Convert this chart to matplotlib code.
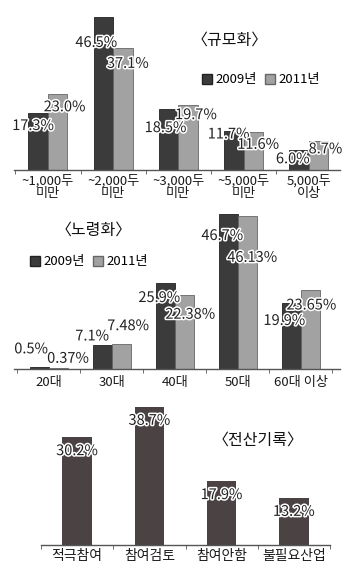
import numpy as np
import matplotlib.pyplot as plt
import matplotlib.patheffects as pe
from matplotlib.patches import Patch

plt.rcParams['font.family'] = ['Noto Sans CJK KR', 'DejaVu Sans']

# data
size_cats = ['~1,000두\n미만', '~2,000두\n미만', '~3,000두\n미만', '~5,000두\n미만', '5,000두\n이상']
size_2009 = [17.3, 46.5, 18.5, 11.7, 6.0]
size_2011 = [23.0, 37.1, 19.7, 11.6, 8.7]
size_lab09 = ['17.3%', '46.5%', '18.5%', '11.7%', '6.0%']
size_lab11 = ['23.0%', '37.1%', '19.7%', '11.6%', '8.7%']

age_cats = ['20대', '30대', '40대', '50대', '60대 이상']
age_2009 = [0.5, 7.1, 25.9, 46.7, 19.9]
age_2011 = [0.37, 7.48, 22.38, 46.13, 23.65]
age_lab09 = ['0.5%', '7.1%', '25.9%', '46.7%', '19.9%']
age_lab11 = ['0.37%', '7.48%', '22.38%', '46.13%', '23.65%']

rec_cats = ['적극참여', '참여검토', '참여안함', '불필요산업']
rec_vals = [30.2, 38.7, 17.9, 13.2]
rec_labs = ['30.2%', '38.7%', '17.9%', '13.2%']

years = ['2009년', '2011년']

# label offsets in pixels (dx, dy) from bar top centre
size_off09 = [(-5, -13), (-7, -26), (-3, -19), (-5, -3), (-6, -9)]
size_off11 = [(7, -13), (5, -16), (8, -10), (5, -13), (7, -8)]
age_off09 = [(-8, 18), (-10, 9), (-6, -15), (-6, -22), (-7, -18)]
age_off11 = [(10, 9), (7, 18), (6, -20), (5, -42), (1, -15)]

W, H = 360, 575
DARK = '#3b3b3b'
LIGHT = '#a2a2a2'
BROWN = '#4a4243'

fig = plt.figure(figsize=(W / 100, H / 100), dpi=100)


def box(x0, x1, ytop, ybot):
    return [x0 / W, 1 - ybot / H, (x1 - x0) / W, (ybot - ytop) / H]


stroke = [pe.withStroke(linewidth=2.2, foreground='white')]


def style_axis(ax, n, fs):
    for s in ['top', 'right', 'left']:
        ax.spines[s].set_visible(False)
    ax.spines['bottom'].set_color('#555555')
    ax.spines['bottom'].set_linewidth(1.0)
    ax.set_yticks([])
    ax.set_xticks(range(n))
    ax.set_xticks(np.arange(-0.5, n, 1.0), minor=True)
    ax.tick_params(axis='x', which='major', length=0, pad=3, labelsize=fs, labelcolor='#1a1a1a')
    ax.tick_params(axis='x', which='minor', length=3, color='#555555')


def grouped(ax, cats, v09, v11, l09, l11, o09, o11, w):
    x = np.arange(len(cats))
    b1 = ax.bar(x - w / 2, v09, w, color=DARK, edgecolor='#222222', linewidth=0.6)
    b2 = ax.bar(x + w / 2, v11, w, color=LIGHT, edgecolor='#666666', linewidth=0.6)
    for bars, labs, offs in [(b1, l09, o09), (b2, l11, o11)]:
        for b, t, (dx, dy) in zip(bars, labs, offs):
            ax.annotate(t, (b.get_x() + b.get_width() / 2, b.get_height()),
                        xytext=(dx, dy), textcoords='offset pixels',
                        ha='center', va='center', fontsize=10.5, color='#222222',
                        path_effects=stroke)
    ax.set_xticklabels(cats, linespacing=0.9)
    style_axis(ax, len(cats), 9.5)


# panel 1
ax1 = fig.add_axes(box(14, 340, 10, 170))
grouped(ax1, size_cats, size_2009, size_2011, size_lab09, size_lab11, size_off09, size_off11, 0.30)
ax1.set_xlim(-0.52, 4.48)
ax1.set_ylim(0, 48.6)
fig.text(230 / W, 1 - 40 / H, '〈규모화〉', ha='center', va='center', fontsize=11.5,
         color='#111111', fontweight='medium')

# panel 2
ax2 = fig.add_axes(box(14, 340, 205, 369))
grouped(ax2, age_cats, age_2009, age_2011, age_lab09, age_lab11, age_off09, age_off11, 0.30)
ax2.set_xlim(-0.55, 4.62)
ax2.set_ylim(0, 49.4)
ax2.tick_params(axis='x', which='major', pad=5)
fig.text(94 / W, 1 - 230 / H, '〈노령화〉', ha='center', va='center', fontsize=11.5,
         color='#111111', fontweight='medium')

handles = [Patch(facecolor=DARK, edgecolor='#222222'), Patch(facecolor=LIGHT, edgecolor='#666666')]
for cx, cy in [(261, 80), (89, 262)]:
    fig.legend(handles, years, loc='center', bbox_to_anchor=(cx / W, 1 - cy / H), ncol=2,
               frameon=False, fontsize=9.5, handlelength=0.75, handleheight=0.75,
               handletextpad=0.25, columnspacing=0.6, borderpad=0)

# panel 3
ax3 = fig.add_axes(box(41, 330, 400, 545))
b3 = ax3.bar(np.arange(len(rec_cats)), rec_vals, 0.41, color=BROWN)
for b, t in zip(b3, rec_labs):
    ax3.annotate(t, (b.get_x() + b.get_width() / 2, b.get_height()),
                 xytext=(0, -14), textcoords='offset pixels',
                 ha='center', va='center', fontsize=10.5, color='#222222',
                 path_effects=stroke)
ax3.set_xticklabels(rec_cats)
style_axis(ax3, len(rec_cats), 10)
ax3.set_xlim(-0.5, 3.5)
ax3.set_ylim(0, 40.6)
fig.text(258 / W, 1 - 440 / H, '〈전산기록〉', ha='center', va='center', fontsize=11.5,
         color='#111111', fontweight='medium')

fig.savefig('out.png', dpi=100)
